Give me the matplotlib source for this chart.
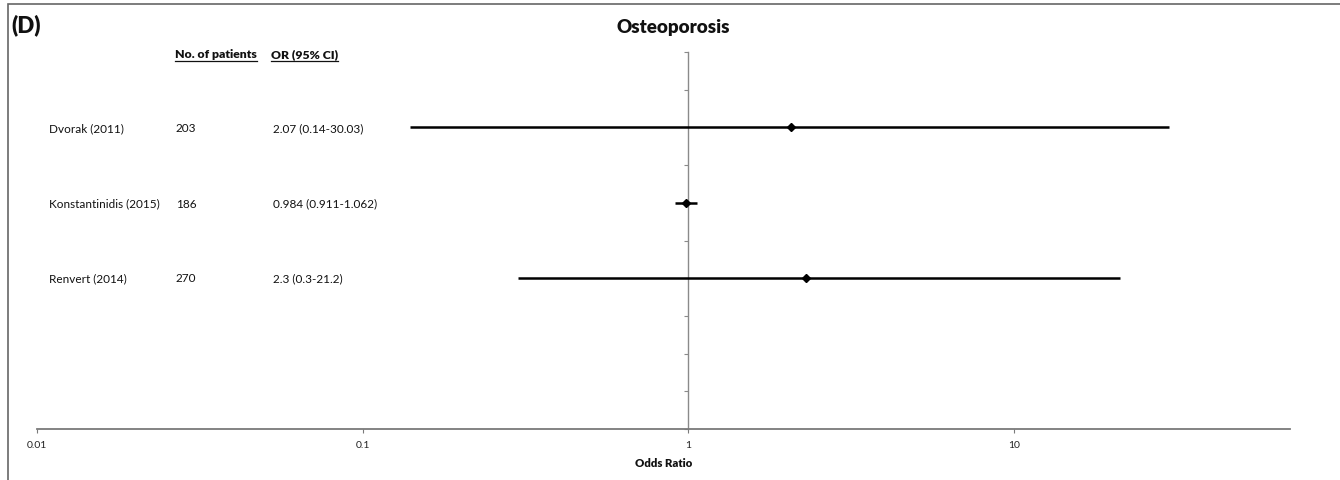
import matplotlib
matplotlib.use("Agg")
import matplotlib.pyplot as plt
from matplotlib.patches import Rectangle
from matplotlib.lines import Line2D

plt.rcParams['font.family'] = ['Lato', 'DejaVu Sans']

studies = ["Dvorak (2011)", "Konstantinidis (2015)", "Renvert (2014)"]
patients = ["203", "186", "270"]
or_text = ["2.07 (0.14-30.03)", "0.984 (0.911-1.062)", "2.3 (0.3-21.2)"]
odds = [2.07, 0.984, 2.3]
ci_low = [0.14, 0.911, 0.3]
ci_high = [30.03, 1.062, 21.2]
row_pos = [8, 6, 4]
xticks = [0.01, 0.1, 1, 10]
xticklabels = ["0.01", "0.1", "1", "10"]

W, H = 1340, 481
fig = plt.figure(figsize=(W / 100, H / 100), dpi=100)

def fx(px):
    return px / W

def fy(py):
    return 1 - py / H

ax = fig.add_axes([fx(37), fy(430), fx(1290) - fx(37), fy(53) - fy(430)])
ax.set_xscale('log')
ax.set_xlim(0.01, 10 ** 1.848)
ax.set_ylim(0, 10)

for s in ['top', 'right']:
    ax.spines[s].set_visible(False)
ax.spines['left'].set_position(('data', 1))
ax.spines['left'].set_color('#8a8a8a')
ax.spines['bottom'].set_color('#7a7a7a')
ax.spines['left'].set_linewidth(1.0)
ax.spines['bottom'].set_linewidth(1.3)
ax.set_yticks(range(0, 11))
ax.set_yticklabels([])
ax.tick_params(axis='y', direction='out', length=3, color='#8a8a8a', width=0.8)
ax.set_xticks(xticks)
ax.set_xticklabels(xticklabels)
ax.xaxis.set_minor_locator(matplotlib.ticker.NullLocator())
ax.tick_params(axis='x', direction='out', length=3, color='#7a7a7a', width=0.8,
               labelsize=7.5, pad=5, labelcolor='#222222')
ax.set_xlabel("Odds Ratio", fontsize=8.2, fontweight='heavy', labelpad=6, color='#111111')

for y, o, lo, hi in zip(row_pos, odds, ci_low, ci_high):
    ax.plot([lo, hi], [y, y], color='black', lw=1.8, solid_capstyle='butt', zorder=3)
    ax.plot([o], [y], marker='D', color='black', markersize=4.5, zorder=4)

# text columns (figure coords)
row_py = [129, 204, 279]
for py, st, n, t in zip(row_py, studies, patients, or_text):
    fig.text(fx(49), fy(py), st, fontsize=8.5, va='center', ha='left', color='#111111')
    fig.text(fx(176), fy(py), n, fontsize=8.5, va='center', ha='left', color='#111111')
    fig.text(fx(273), fy(py), t, fontsize=8.5, va='center', ha='left', color='#111111')

h1 = fig.text(fx(175), fy(55), "No. of patients", fontsize=8.8, fontweight='heavy',
              va='center', ha='left', color='#111111')
h2 = fig.text(fx(271), fy(55), "OR (95% CI)", fontsize=8.8, fontweight='heavy',
              va='center', ha='left', color='#111111')

fig.text(fx(673), fy(27), "Osteoporosis", fontsize=13.5, fontweight='heavy',
         ha='center', va='center', color='#111111')
fig.text(fx(11), fy(25), "(D)", fontsize=16, fontweight='heavy',
         ha='left', va='center', color='#111111')

# border box (extends past right and bottom edges)
fig.patches.append(Rectangle((fx(8), -0.05), 1.2, fy(5) + 0.05, transform=fig.transFigure,
                             fill=False, edgecolor='#666666', lw=1.2))

fig.canvas.draw()
r = fig.canvas.get_renderer()
for h in (h1, h2):
    bb = h.get_window_extent(r)
    yline = bb.y0 - 1
    fig.add_artist(Line2D([bb.x0 / W, bb.x1 / W], [yline / H, yline / H],
                          transform=fig.transFigure, color='#111111', lw=0.9))

fig.savefig("out.png", dpi=100)
